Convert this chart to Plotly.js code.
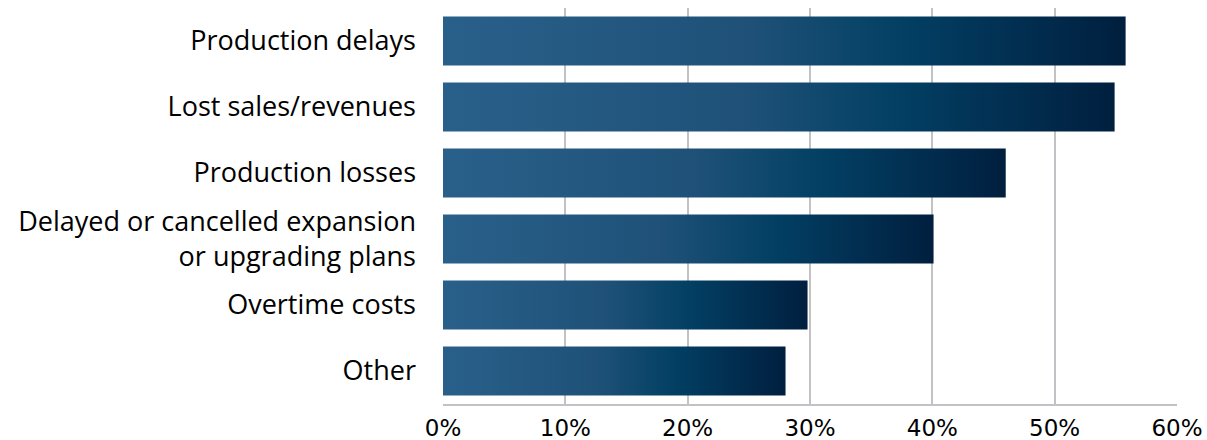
<!DOCTYPE html>
<html>
<head>
<meta charset="utf-8">
<script src="https://cdn.plot.ly/plotly-3.0.1.min.js"></script>
<style>html,body{margin:0;padding:0;background:#fff;}#chart{width:1207px;height:440px;}</style>
</head>
<body>
<div id="chart"></div>
<script>
const categories = [
  "Production delays",
  "Lost sales/revenues",
  "Production losses",
  "Delayed or cancelled expansion<br>or upgrading plans",
  "Overtime costs",
  "Other"
];
const values = [0.558, 0.549, 0.460, 0.401, 0.298, 0.280];
const xTickVals = [0, 0.1, 0.2, 0.3, 0.4, 0.5, 0.6];
const xTickText = ["0%", "10%", "20%", "30%", "40%", "50%", "60%"];

const barHalf = 0.37;
const gradient = [[0, '#29608a'], [0.45, '#1f5178'], [0.68, '#023f63'], [1, '#011f3f']];

const traces = categories.map((c, i) => ({
  type: 'scatter',
  mode: 'lines',
  x: [0, values[i], values[i], 0, 0],
  y: [i - barHalf, i - barHalf, i + barHalf, i + barHalf, i - barHalf],
  fill: 'toself',
  fillgradient: {type: 'horizontal', colorscale: gradient},
  line: {width: 0},
  hoverinfo: 'skip',
  showlegend: false,
  name: c
}));

const layout = {
  width: 1207,
  height: 440,
  margin: {l: 443, r: 30, t: 8, b: 36},
  paper_bgcolor: '#fff',
  plot_bgcolor: '#fff',
  showlegend: false,
  xaxis: {
    range: [0, 0.6],
    tickvals: xTickVals,
    ticktext: xTickText,
    showgrid: true,
    gridcolor: '#c2c2c6',
    gridwidth: 2,
    zeroline: false,
    showline: true,
    linecolor: '#c2c2c6',
    linewidth: 2,
    ticks: '',
    ticklabelstandoff: 2,
    tickfont: {family: 'DejaVu Sans', size: 23, color: '#000'},
    fixedrange: true
  },
  yaxis: {
    range: [5.5, -0.5],
    tickvals: categories.map((c, i) => i),
    ticktext: categories,
    showgrid: false,
    zeroline: false,
    showline: false,
    ticks: '',
    ticklabelstandoff: 26,
    tickfont: {family: 'Open Sans', size: 27, color: '#000'},
    fixedrange: true
  }
};

Plotly.newPlot('chart', traces, layout, {displayModeBar: false, staticPlot: true});
</script>
</body>
</html>
